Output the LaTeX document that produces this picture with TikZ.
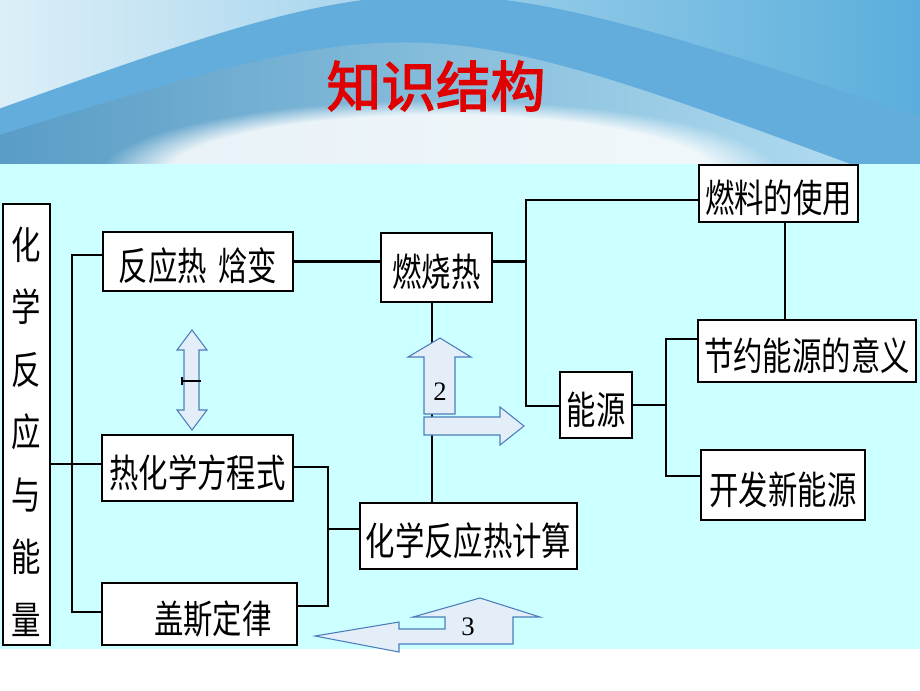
\documentclass[tikz,border=0pt]{standalone}
\usepackage{fontspec}
\setmainfont{Noto Sans CJK SC}
\newfontfamily\boxfont[FakeStretch=0.76]{Noto Sans CJK SC}
\newfontfamily\titlefont[FakeBold=2.5]{Noto Sans CJK SC}
\newfontfamily\numfont{Liberation Serif}
\usetikzlibrary{fit,fadings}
\definecolor{bg}{HTML}{CCFFFF}
\definecolor{arrowfill}{HTML}{E4EEF9}
\definecolor{arrowline}{HTML}{4A7EBB}
\definecolor{bannerL}{HTML}{DCEFF8}
\definecolor{bannerR}{HTML}{5AAEDC}
\definecolor{arcblue}{HTML}{62ADDB}
\definecolor{arcmid}{HTML}{B2DDF1}
\definecolor{titlered}{HTML}{E00000}
\begin{document}
\begin{tikzpicture}[x=0.75pt,y=-0.75pt,
  box/.style={draw=black, line width=1.8pt, fill=white, inner sep=0pt},
  lbl/.style={inner sep=0pt, anchor=base, font=\boxfont\fontsize{29}{32}\selectfont},
  conn/.style={line width=1.6pt},
  barrow/.style={draw=arrowline, fill=arrowfill, line width=0.8pt, line join=miter},
  numlabel/.style={font=\numfont\fontsize{20}{22}\selectfont, inner sep=0pt}]
\useasboundingbox (0,0) rectangle (920,690);
% background
\fill[white] (0,0) rectangle (920,690);
\fill[bg] (0,163) rectangle (920,649);
% banner
\begin{scope}
  \clip (0,0) rectangle (920,163);
  \shade[left color=bannerL, right color=bannerR] (0,0) rectangle (920,163);
  \shade[left color=arcblue, middle color=arcmid, right color=arcblue]
    (-10,112) .. controls (430,-45) .. (930,120) -- (930,170) -- (-10,170) -- cycle;
  \shade[left color=arcblue!90!black, middle color=white, right color=arcmid]
    (-10,138) .. controls (420,5) .. (880,175) -- (-10,175) -- cycle;
  \fill[white, opacity=0.85, path fading=circle with fuzzy edge 20 percent]
    (440,175) ellipse [x radius=340, y radius=75];
\end{scope}
\node[font=\titlefont\fontsize{41}{45}\selectfont, text=titlered] (title) at (436,86) {知识结构};
% boxes (shapes)
\node[box, fit={(3,204) (50,645)}] (vbox) {};
\node[box, fit={(103,232) (293,291)}] (fy) {};
\node[box, fit={(381,233) (492,302)}] (rsr) {};
\node[box, fit={(699,165) (858,222)}] (rl) {};
\node[box, fit={(698,320) (916,382)}] (jy) {};
\node[box, fit={(701,450) (865,520)}] (kf) {};
\node[box, fit={(560,372) (632,438)}] (ny) {};
\node[box, fit={(102,435) (293,501)}] (rhx) {};
\node[box, fit={(360,503) (577,569)}] (jsq) {};
\node[box, fit={(102,583) (297,645)}] (gs) {};
% box texts
\foreach \c [count=\i from 0] in {化,学,反,应,与,能,量}
  \node[lbl] (v\i) at (26.5,259+62.5*\i) {\c};
\node[lbl] (fyt) at ([yshift=-14.6pt]fy.center) {反应热\hspace{0.3em}焓变};
\node[lbl] (rsrt) at ([yshift=-14.6pt]rsr.center) {燃烧热};
\node[lbl] (rlt) at ([yshift=-14.6pt]rl.center) {燃料的使用};
\node[lbl] (jyt) at ([yshift=-14.6pt]jy.center) {节约能源的意义};
\node[lbl] (kft) at ([yshift=-14.6pt]kf.center) {开发新能源};
\node[lbl] (nyt) at ([yshift=-14.6pt]ny.center) {能源};
\node[lbl] (rhxt) at ([yshift=-14.6pt]rhx.center) {热化学方程式};
\node[lbl] (jsqt) at ([yshift=-14.6pt]jsq.center) {化学反应热计算};
\node[lbl] (gst) at ([xshift=10pt,yshift=-14.6pt]gs.center) {盖斯定律};
% connector coordinates
\coordinate (tA) at (72,255);
\coordinate (tB) at (72,464);
\coordinate (tC) at (72,612);
\coordinate (rA) at (526,200);
\coordinate (rB) at (526,406);
\coordinate (nA) at (666,339);
\coordinate (nB) at (666,476);
\coordinate (hA) at (328,467);
\coordinate (hB) at (328,606);
\coordinate (hM) at (328,529);
\coordinate (vx) at (432,0);
\coordinate (mx) at (785,0);
% connectors
\draw[conn] (tA -| fy.west) -- (tA) -- (tC) -- (tC -| gs.west);
\draw[conn] (vbox.east |- tB) -- (tB -| rhx.west);
\draw[conn] (fy.east) -- (fy.east -| rsr.west);
\draw[conn] (fy.east -| rsr.east) -- (fy.east -| rA);
\draw[conn] (rA -| rl.west) -- (rA) -- (rB) -- (rB -| ny.west);
\draw[conn] (ny.east) -- (ny.east -| nA);
\draw[conn] (nA -| jy.west) -- (nA) -- (nB) -- (nB -| kf.west);
\draw[conn] (rl.south -| mx) -- (jy.north -| mx);
\draw[conn] (rsr.south -| vx) -- (jsq.north -| vx);
\draw[conn] (hA -| rhx.east) -- (hA) -- (hB) -- (hB -| gs.east);
\draw[conn] (hM) -- (hM -| jsq.west);
% block arrows
\draw[barrow] (192,330) -- (207,350) -- (199,350) -- (199,410) -- (207,410) -- (192,430)
  -- (177,410) -- (184,410) -- (184,350) -- (177,350) -- cycle;
\draw[line width=1.5pt] (182,381) -- (201,381);
\draw[line width=1pt] (182,377) -- (182,385);
\draw[barrow] (440,338) -- (471,357) -- (455,357) -- (455,414) -- (424,414) -- (424,357) -- (408,357) -- cycle;
\draw[barrow] (424,417) -- (500,417) -- (500,407) -- (524,426) -- (500,445) -- (500,435) -- (424,435) -- cycle;
\node[numlabel] (n2) at (440,392) {2};
\draw[barrow] (315,636) -- (399,622) -- (399,629) -- (445,629) -- (445,617) -- (413,617) -- (480,598)
  -- (540,617) -- (513,617) -- (513,644) -- (399,644) -- (399,652) -- cycle;
\node[numlabel] (n3) at (468,627) {3};
\end{tikzpicture}
\end{document}
